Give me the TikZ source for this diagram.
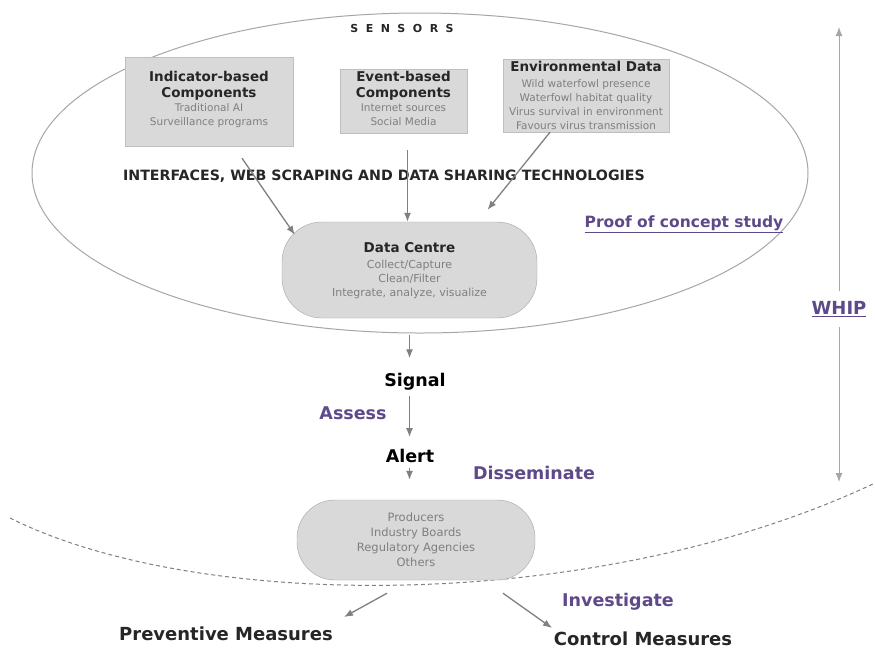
\documentclass[tikz,border=0pt]{standalone}
\usepackage{fontspec}
\setmainfont{DejaVu Sans}
\usetikzlibrary{arrows.meta,positioning,calc}
\definecolor{ink}{HTML}{262626}
\definecolor{boxfill}{HTML}{D9D9D9}
\definecolor{boxline}{HTML}{BFBFBF}
\definecolor{subtext}{HTML}{7F7F7F}
\definecolor{arrowgray}{HTML}{808080}
\definecolor{ringgray}{HTML}{A6A6A6}
\definecolor{plum}{HTML}{5E4A8A}
\newcommand{\boxhead}[1]{{\bfseries\color{ink}\fontsize{13.5}{16}\selectfont #1}}

\begin{document}
\begin{tikzpicture}[x=1pt,y=-1pt, comp/.style={draw=boxline,fill=boxfill,align=center,inner sep=0pt,text=subtext,font=\fontsize{10.5}{14}\selectfont}, hub/.style={draw=ringgray,fill=boxfill,rounded corners=40pt,align=center,inner sep=0pt,text=subtext,font=\fontsize{11}{14}\selectfont}, stage/.style={inner sep=0pt,text=black,font=\bfseries\fontsize{17.5}{20}\selectfont}, verb/.style={inner sep=0pt,text=plum,font=\bfseries\fontsize{17.5}{20}\selectfont}, flow/.style={draw=arrowgray,line width=1.3pt,-{Latex[length=9pt,width=7pt]}}]
\useasboundingbox (0,0) rectangle (875,649);
\fill[white] (0,0) rectangle (875,649);
% sensors region
\draw[ringgray,line width=1pt] (420,173) ellipse [x radius=388,y radius=160];
\node[inner sep=0pt,text=ink,font=\bfseries\fontsize{11}{12}\selectfont] (sensors) at (402,28) {S\hspace{7.5pt}E\hspace{7.5pt}N\hspace{7.5pt}S\hspace{7.5pt}O\hspace{7.5pt}R\hspace{7.5pt}S};
\node[comp,minimum width=168pt,minimum height=89pt] (ind) at (209,101.5) {\mbox{}\\[-8pt]\boxhead{Indicator-based}\\[2pt]\boxhead{Components}\\Traditional AI\\Surveillance programs};
\node[comp,minimum width=127pt,minimum height=64pt] (evt) at (403.5,101) {\mbox{}\\[-8pt]\boxhead{Event-based}\\[2pt]\boxhead{Components}\\Internet sources\\Social Media};
\node[comp,minimum width=166pt,minimum height=73pt] (env) at (586,95.5) {\boxhead{Environmental Data}\\[2pt]Wild waterfowl presence\\Waterfowl habitat quality\\Virus survival in environment\\Favours virus transmission};
\node[inner sep=0pt,text=ink,font=\bfseries\fontsize{14.2}{16}\selectfont] (tech) at (384,176) {INTERFACES, WEB SCRAPING AND DATA SHARING TECHNOLOGIES};
\node[hub,minimum width=255pt,minimum height=96pt] (centre) at (409.5,270) {\mbox{}\\[-3pt]\boxhead{Data Centre}\\[2pt]Collect/Capture\\Clean/Filter\\Integrate, analyze, visualize};
\node[verb,font=\bfseries\fontsize{15.5}{18}\selectfont] (poc) at (684,224) {\underline{Proof of concept study}};
\draw[flow] ([xshift=33pt,yshift=-12pt]ind.south) -- ([xshift=13pt,yshift=-13pt]centre.north west);
\draw[flow] ($(evt.south -| centre.north)+(-2,17)$) -- ([xshift=-2pt]centre.north);
\draw[flow] ([xshift=-36pt]env.south) -- ([xshift=78pt,yshift=12pt]centre.north);
% signal chain
\node[stage] (signal) at (415,382) {Signal};
\node[stage] (alert) at (410,456) {Alert};
\node[verb] (assess) at (353,413) {Assess};
\node[verb] (diss) at (534,473) {Disseminate};
\draw[flow,shorten <=17pt,shorten >=15pt] (centre.south) -- (centre.south |- signal.north);
\draw[flow,shorten <=5pt,shorten >=12pt] (centre.south |- signal.south) -- (centre.south |- alert.north);
% whip span
\node[verb,font=\bfseries\fontsize{18}{20}\selectfont] (whip) at (839,309) {\underline{WHIP}};
\coordinate (whip top) at (839,27);
\coordinate (whip end) at (839,482);
\draw[flow,draw=ringgray,line width=1pt,shorten <=10pt] (whip.north) -- (whip top);
\draw[flow,draw=ringgray,line width=1pt,shorten <=10pt] (whip.south) -- (whip end);
% boundary and stakeholders
\draw[arrowgray,dashed,line width=1pt,dash pattern=on 4pt off 3pt] (10,518) .. controls (200,613) and (600,613) .. (875,483);
\node[hub,minimum width=238pt,minimum height=80pt,rounded corners=38pt,font=\fontsize{11.5}{15}\selectfont] (users) at (416,540) {Producers\\Industry Boards\\Regulatory Agencies\\Others};
\draw[flow,shorten <=5pt,shorten >=20pt] (centre.south |- alert.south) -- (centre.south |- users.north);
\node[stage,text=ink,font=\bfseries\fontsize{18}{20}\selectfont] (prev) at (226,634) {Preventive Measures};
\node[stage,text=ink,font=\bfseries\fontsize{18}{20}\selectfont] (ctrl) at (643,639) {Control Measures};
\node[verb] (inv) at (618,602) {Investigate};
\coordinate (prev tip) at (344,617);
\coordinate (ctrl tip) at (552,628);
\draw[flow] ([xshift=-29pt,yshift=-13pt]users.south) -- (prev tip);
\draw[flow] ([xshift=87pt,yshift=-13pt]users.south) -- (ctrl tip);
\end{tikzpicture}
\end{document}
